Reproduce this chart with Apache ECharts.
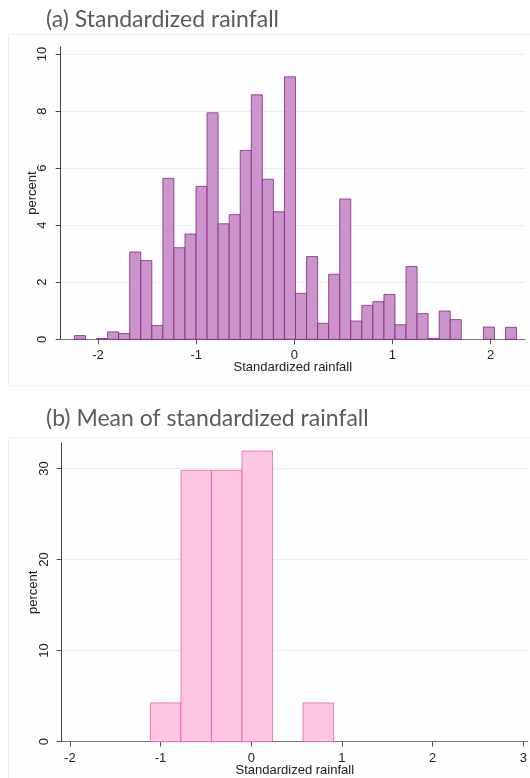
<!DOCTYPE html>
<html>
<head>
<meta charset="utf-8">
<script src="https://cdn.jsdelivr.net/npm/echarts@6/dist/echarts.min.js"></script>
<style>
  html, body { margin: 0; padding: 0; background: #fff; }
  #container { width: 530px; height: 778px; }
</style>
</head>
<body>
<div id="container"></div>
<script>
// (a) histogram of standardized rainfall: 40 bins starting at -2.24
var rainBinStart = -2.24;
var rainBinWidth = 0.1126;
var rainPercent = [
    0.13, 0, 0.03, 0.26, 0.2, 3.06, 2.76, 0.48, 5.64, 3.21,
    3.69, 5.36, 7.94, 4.05, 4.37, 6.62, 8.57, 5.61, 4.47, 9.2,
    1.61, 2.9, 0.56, 2.28, 4.92, 0.64, 1.19, 1.32, 1.57, 0.51,
    2.55, 0.9, 0.03, 0.99, 0.69, 0, 0, 0.43, 0, 0.42
];
var rainTicksX = [-2, -1, 0, 1, 2];
var rainTicksY = [0, 2, 4, 6, 8, 10];

// (b) histogram of mean standardized rainfall
var meanBinEdges = [-1.112, -0.775, -0.439, -0.102, 0.234, 0.571, 0.907];
var meanPercent = [4.26, 29.79, 29.79, 31.91, 0, 4.26];
var meanTicksX = [-2, -1, 0, 1, 2, 3];
var meanTicksY = [0, 10, 20, 30];

var rainData = rainPercent.map(function (v, i) {
    var lo = rainBinStart + i * rainBinWidth;
    return [lo, lo + rainBinWidth, v];
});
var meanData = meanPercent.map(function (v, i) {
    return [meanBinEdges[i], meanBinEdges[i + 1], v];
});

function histBar(params, api) {
    if (api.value(2) <= 0) return;
    var p0 = api.coord([api.value(0), 0]);
    var p1 = api.coord([api.value(1), api.value(2)]);
    return {
        type: 'rect',
        shape: { x: p0[0], y: p1[1], width: p1[0] - p0[0], height: p0[1] - p1[1] },
        style: api.style()
    };
}

var labelFont = 'Liberation Sans';
function xAxisOpt(idx, min, max, ticks) {
    return {
        gridIndex: idx, type: 'value', min: min, max: max,
        name: 'Standardized rainfall', nameLocation: 'middle', nameGap: 22, nameMoveOverlap: false,
        nameTextStyle: { fontFamily: labelFont, fontSize: 13, color: '#222' },
        axisLine: { onZero: false, lineStyle: { color: '#777', width: 1 } },
        axisTick: { show: true, length: 5, customValues: ticks, lineStyle: { color: '#555' } },
        axisLabel: { customValues: ticks, margin: 10, fontFamily: labelFont, fontSize: 13, color: '#222' },
        splitLine: { show: false }
    };
}
function yAxisOpt(idx, max, ticks, margin) {
    return {
        gridIndex: idx, type: 'value', min: 0, max: max,
        name: 'percent', nameLocation: 'middle', nameGap: 22, nameRotate: 90, nameMoveOverlap: false,
        nameTextStyle: { fontFamily: labelFont, fontSize: 13, color: '#222' },
        axisLine: { show: true, onZero: false, lineStyle: { color: '#444', width: 1 } },
        axisTick: { show: true, length: 5, customValues: ticks, lineStyle: { color: '#444' } },
        axisLabel: { customValues: ticks, rotate: 90, margin: margin, fontFamily: labelFont, fontSize: 13, color: '#222' },
        splitLine: { show: true, lineStyle: { color: '#e6eef2', width: 1 } }
    };
}

var myChart = echarts.init(document.getElementById('container'), null, { renderer: 'canvas' });
var option = {
    animation: false,
    backgroundColor: '#ffffff',
    graphic: [
        { type: 'rect', shape: { x: 8.5, y: 34.5, width: 530, height: 351 }, style: { fill: '#fefefe', stroke: '#efefef' }, z: -10 },
        { type: 'rect', shape: { x: 8.5, y: 437.5, width: 530, height: 350 }, style: { fill: '#fefefe', stroke: '#efefef' }, z: -10 }
    ],
    title: [
        { text: '(a) Standardized rainfall', left: 41, top: 3,
          textStyle: { fontFamily: 'Lato', fontWeight: 'normal', fontSize: 23, color: '#5b5b5b' } },
        { text: '(b) Mean of standardized rainfall', left: 41, top: 402,
          textStyle: { fontFamily: 'Lato', fontWeight: 'normal', fontSize: 23, color: '#5b5b5b' } }
    ],
    grid: [
        { left: 60.7, top: 46.9, width: 464.3, height: 292.4 },
        { left: 61.7, top: 442.9, width: 468.3, height: 298.8 }
    ],
    xAxis: [
        xAxisOpt(0, -2.38, 2.35, rainTicksX),
        xAxisOpt(1, -2.09, 3.05, meanTicksX)
    ],
    yAxis: [
        yAxisOpt(0, 10.25, rainTicksY, 12),
        yAxisOpt(1, 32.8, meanTicksY, 11)
    ],
    series: [
        {
            type: 'custom', xAxisIndex: 0, yAxisIndex: 0,
            renderItem: histBar,
            encode: { x: [0, 1], y: 2 },
            itemStyle: { color: '#cb94cb', borderColor: 'rgba(128, 28, 130, 0.75)', borderWidth: 1 },
            data: rainData
        },
        {
            type: 'custom', xAxisIndex: 1, yAxisIndex: 1,
            renderItem: histBar,
            encode: { x: [0, 1], y: 2 },
            itemStyle: { color: '#fec7e1', borderColor: 'rgba(232, 40, 150, 0.55)', borderWidth: 1 },
            data: meanData
        }
    ]
};
myChart.setOption(option, true);
</script>
</body>
</html>
